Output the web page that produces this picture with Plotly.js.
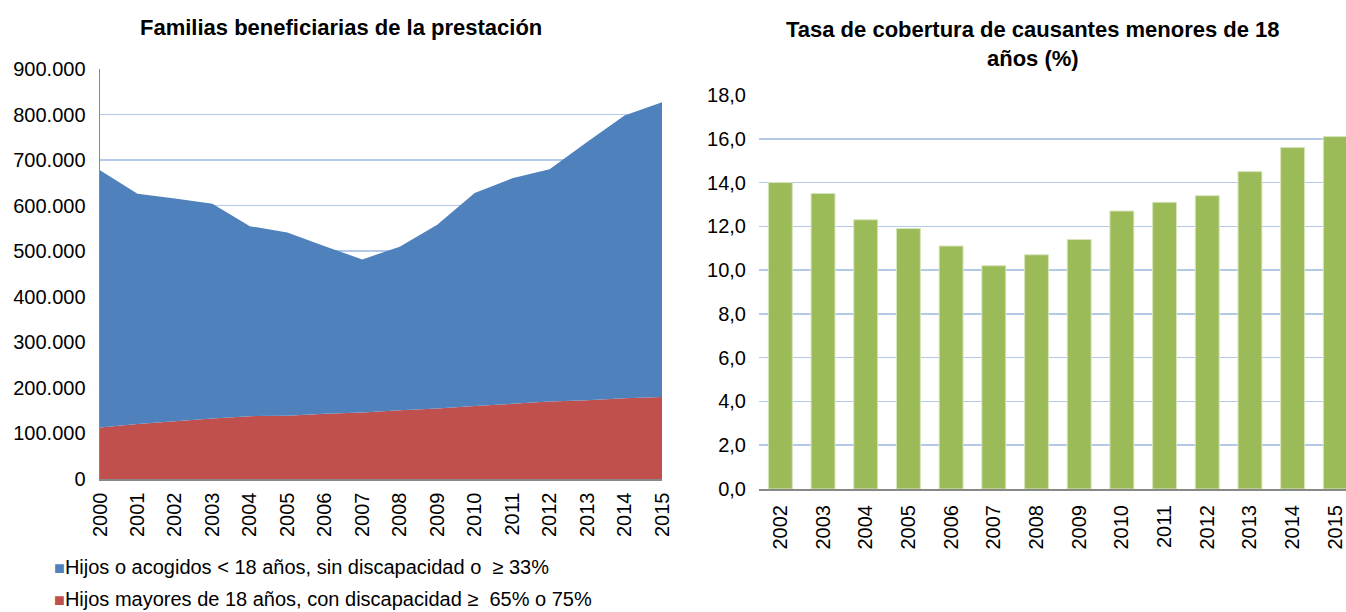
<!DOCTYPE html>
<html>
<head>
<meta charset="utf-8">
<script src="https://cdn.plot.ly/plotly-3.0.1.min.js"></script>
<style>
html,body{margin:0;padding:0;background:#fff;overflow:hidden;}
#chart{width:1346px;height:612px;}
</style>
</head>
<body>
<div id="chart"></div>
<script>
// Left chart: stacked area
const yearsA = ['2000','2001','2002','2003','2004','2005','2006','2007','2008','2009','2010','2011','2012','2013','2014','2015'];
const hijosMenores = [565000,505000,489000,471000,417000,402000,368000,336000,359000,403000,468000,495000,510000,567000,621000,647000];
const hijosMayores = [113000,121000,127000,133000,138000,139000,143000,146000,151000,155000,160000,165000,170000,173000,177000,180000];
const nameMenores = 'Hijos o acogidos &lt; 18 años, sin discapacidad o  ≥ 33%';
const nameMayores = 'Hijos mayores de 18 años, con discapacidad ≥  65% o 75%';
const titleA = 'Familias beneficiarias de la prestación';

// Right chart: bars
const yearsB = ['2002','2003','2004','2005','2006','2007','2008','2009','2010','2011','2012','2013','2014','2015'];
const tasaCobertura = [14.0,13.5,12.3,11.9,11.1,10.2,10.7,11.4,12.7,13.1,13.4,14.5,15.6,16.1];
const titleB = 'Tasa de cobertura de causantes menores de 18<br>años (%)';

const FONT = 'Liberation Sans, Arial, sans-serif';
const BLUE = '#4F81BD', RED = '#C0504D', GREEN = '#9BBB59';
const GRID = '#b4c8e8';

const traces = [
  {x: yearsA, y: hijosMayores, type:'scatter', mode:'none', stackgroup:'a', fillcolor: RED,
   name: nameMayores, showlegend:false, xaxis:'x', yaxis:'y', hoverinfo:'x+y'},
  {x: yearsA, y: hijosMenores, type:'scatter', mode:'none', stackgroup:'a', fillcolor: BLUE,
   name: nameMenores, showlegend:false, xaxis:'x', yaxis:'y', hoverinfo:'x+y'},
  {x: yearsB, y: tasaCobertura, type:'bar', marker:{color: GREEN, line:{color:'#d7e4bd', width:1}},
   showlegend:false, xaxis:'x2', yaxis:'y2'}
];

const W = 1346, H = 612;
const tickFont = {family: FONT, size: 20, color:'#000'};

const layout = {
  width: W, height: H,
  margin: {l:0, r:0, t:0, b:0},
  paper_bgcolor:'#fff', plot_bgcolor:'rgba(0,0,0,0)',
  separators: ',.',
  font: {family: FONT, size: 20, color:'#000'},
  bargap: 0.44,
  xaxis: {
    domain: [100/W, 662/W], type:'category', range:[0, 15],
    tickangle: -90, tickfont: tickFont, showgrid:false,
    showline:true, linecolor:'#888', linewidth:1.5, ticks:'', ticklabelstandoff: 4,
    fixedrange:true
  },
  yaxis: {
    domain: [(H-479)/H, (H-69)/H], range:[0, 900000], dtick:100000, tickformat:',d',
    tickfont: tickFont, showgrid:true, gridcolor: GRID, gridwidth:1.5,
    showline:true, linecolor:'#888', linewidth:1.5, zeroline:false, ticks:'',
    ticklabelstandoff: 9, fixedrange:true
  },
  xaxis2: {
    domain: [759/W, 1], type:'category', range:[-0.5, 13.25], anchor:'y2',
    tickangle: -90, tickfont: tickFont, showgrid:false,
    showline:true, linecolor:'#888', linewidth:2, ticks:'', ticklabelstandoff: 6,
    fixedrange:true
  },
  yaxis2: {
    domain: [(H-489)/H, (H-95)/H], range:[0, 18], dtick:2, tickformat:'.1f', anchor:'x2',
    tickfont: tickFont, showgrid:true, gridcolor: GRID, gridwidth:1.5,
    showline:false, zeroline:false, ticks:'', ticklabelstandoff: 12, fixedrange:true
  },
  annotations: [
    {text: '<b>' + titleA + '</b>', xref:'paper', yref:'paper', x: 341/W, y: (H-28)/H,
     xanchor:'center', yanchor:'middle', showarrow:false, font:{family:FONT, size:22, color:'#000'}},
    {text: '<b>' + titleB + '</b>', xref:'paper', yref:'paper', x: 1033/W, y: (H-44)/H,
     xanchor:'center', yanchor:'middle', showarrow:false, align:'center',
     font:{family:FONT, size:22, color:'#000'}},
    {text: '<span style="color:' + BLUE + ';font-size:18px">■</span>' + nameMenores, xref:'paper', yref:'paper',
     x: 52/W, y: (H-567)/H, xanchor:'left', yanchor:'middle', showarrow:false,
     font:{family:FONT, size:20, color:'#000'}},
    {text: '<span style="color:' + RED + ';font-size:18px">■</span>' + nameMayores, xref:'paper', yref:'paper',
     x: 52/W, y: (H-599)/H, xanchor:'left', yanchor:'middle', showarrow:false,
     font:{family:FONT, size:20, color:'#000'}}
  ]
};

Plotly.newPlot('chart', traces, layout, {displayModeBar:false, staticPlot:true});
</script>
</body>
</html>
